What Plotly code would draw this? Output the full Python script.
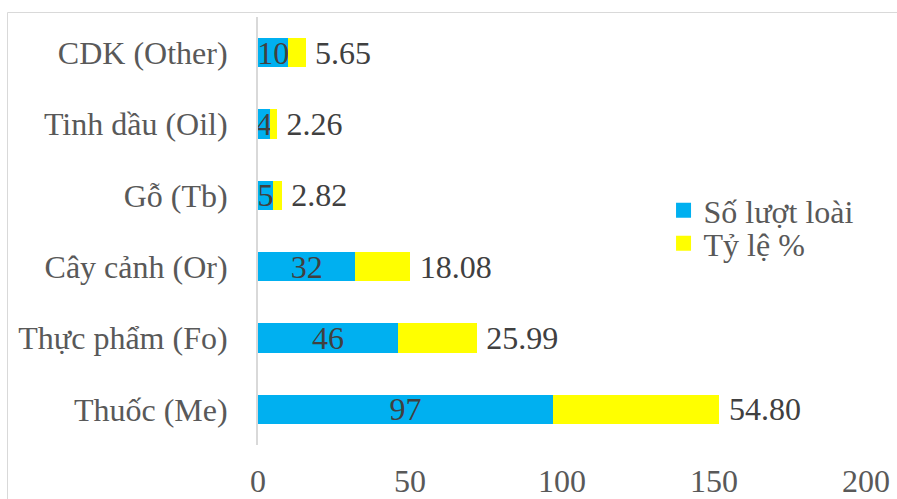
import plotly.graph_objects as go

categories = ["Thuốc (Me)", "Thực phẩm (Fo)", "Cây cảnh (Or)", "Gỗ (Tb)", "Tinh dầu (Oil)", "CDK (Other)"]
so_luot_loai = [97, 46, 32, 5, 4, 10]
ty_le = [54.80, 25.99, 18.08, 2.82, 2.26, 5.65]
series_names = ["Số lượt loài", "Tỷ lệ %"]
x_ticks = [0, 50, 100, 150, 200]

BLUE = "#00B0F0"
YELLOW = "#FFFF00"
TXT = "#595959"
LBL = "#404040"
FONT = "Liberation Serif"
FS = 32

fig = go.Figure()
fig.add_trace(go.Bar(
    y=categories, x=so_luot_loai, orientation="h", name=series_names[0],
    marker=dict(color=BLUE, line=dict(width=0)),
    text=[str(v) for v in so_luot_loai], textposition="inside", textangle=0,
    insidetextanchor="middle", constraintext="none",
    textfont=dict(family=FONT, size=FS, color=LBL), showlegend=False,
    cliponaxis=False,
))
fig.add_trace(go.Bar(
    y=categories, x=ty_le, orientation="h", name=series_names[1],
    marker=dict(color=YELLOW, line=dict(width=0)),
    text=["\u2009" + f"{v:.2f}" for v in ty_le], textposition="outside", textangle=0,
    constraintext="none",
    textfont=dict(family=FONT, size=FS, color=LBL), showlegend=False,
    cliponaxis=False,
))
# legend entries
fig.add_trace(go.Scatter(x=[None], y=[None], mode="markers", name=series_names[0],
                         marker=dict(symbol="square", size=15, color=BLUE), legend="legend"))
fig.add_trace(go.Scatter(x=[None], y=[None], mode="markers", name=series_names[1],
                         marker=dict(symbol="square", size=15, color=YELLOW), legend="legend2"))

fig.update_layout(
    width=897, height=499,
    margin=dict(l=258, r=31, t=17, b=54, autoexpand=False),
    barmode="stack", bargap=0.59,
    plot_bgcolor="white", paper_bgcolor="white",
    font=dict(family=FONT, size=FS, color=TXT),
    uniformtext=dict(mode="show", minsize=FS),
    legend=dict(x=0.667, y=0.548, xanchor="left", yanchor="middle",
                font=dict(family=FONT, size=FS, color=TXT), bgcolor="rgba(0,0,0,0)"),
    legend2=dict(x=0.667, y=0.471, xanchor="left", yanchor="middle",
                 font=dict(family=FONT, size=FS, color=TXT), bgcolor="rgba(0,0,0,0)"),
    xaxis=dict(range=[0, 200], tickvals=x_ticks, showgrid=False, zeroline=False,
               showline=False, ticklabelstandoff=14, automargin=False,
               tickfont=dict(family=FONT, size=FS, color=TXT)),
    yaxis=dict(categoryorder="array", categoryarray=categories, showgrid=False,
               zeroline=False, showline=True, linecolor="#D9D9D9", linewidth=2,
               ticks="", ticklabelstandoff=22, automargin=False,
               tickfont=dict(family=FONT, size=FS, color=TXT)),
    shapes=[dict(type="rect", xref="paper", yref="paper",
                 x0=-0.412, x1=2, y0=-2, y1=1.0105,
                 line=dict(color="#D9D9D9", width=1), fillcolor="rgba(0,0,0,0)", layer="below")],
)

fig.write_html("out.html")
